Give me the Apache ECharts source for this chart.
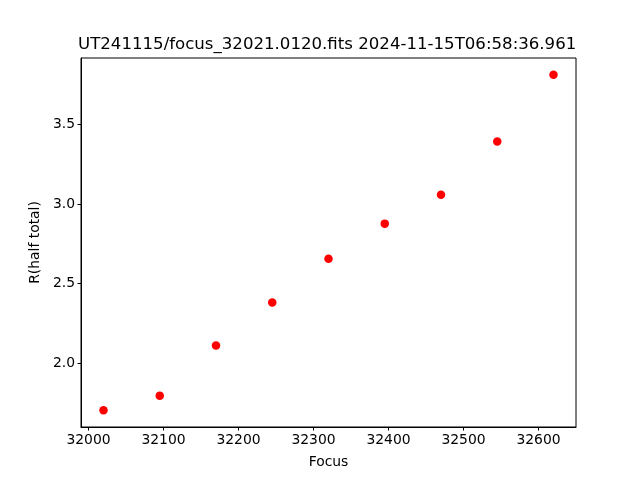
<!DOCTYPE html>
<html>
<head>
<meta charset="utf-8">
<script src="https://cdn.jsdelivr.net/npm/echarts@6/dist/echarts.min.js"></script>
<style>html,body{margin:0;padding:0;background:#fff}#c{width:640px;height:480px}</style>
</head>
<body>
<div id="c"></div>
<script>
const focus = [32020, 32095, 32170, 32245, 32320, 32395, 32470, 32545, 32620];
const rHalfTotal = [1.705, 1.797, 2.111, 2.381, 2.657, 2.877, 3.059, 3.393, 3.812];
const xTicks = [32000, 32100, 32200, 32300, 32400, 32500, 32600];
const yTicks = [2.0, 2.5, 3.0, 3.5];
const titleText = 'UT241115/focus_32021.0120.fits 2024-11-15T06:58:36.961';

const font = 'DejaVu Sans';
const chart = echarts.init(document.getElementById('c'), null, {renderer: 'canvas'});
chart.setOption({
  animation: false,
  backgroundColor: '#fff',
  title: {
    text: titleText,
    left: 78, top: 36, padding: 0,
    textStyle: {fontFamily: font, fontSize: 16.6, fontWeight: 'normal', color: '#000'}
  },
  grid: {left: 81, right: 64, top: 58, bottom: 53, show: true, borderColor: '#000', borderWidth: 1, backgroundColor: 'transparent'},
  xAxis: {
    type: 'value', min: 31990, max: 32650,
    name: 'Focus', nameLocation: 'middle', nameGap: 28,
    nameTextStyle: {fontFamily: font, fontSize: 13.9, color: '#000'},
    splitLine: {show: false},
    axisLine: {show: true, lineStyle: {color: '#000', width: 1}},
    axisTick: {show: true, length: 3.5, lineStyle: {color: '#000'}, customValues: xTicks},
    axisLabel: {fontFamily: font, fontSize: 13.9, color: '#000', margin: 6, customValues: xTicks,
      formatter: v => String(v)}
  },
  yAxis: {
    type: 'value', min: 1.600, max: 3.917,
    name: 'R(half total)', nameLocation: 'middle', nameGap: 39,
    nameTextStyle: {fontFamily: font, fontSize: 13.9, color: '#000'},
    splitLine: {show: false},
    axisLine: {show: true, lineStyle: {color: '#000', width: 1}},
    axisTick: {show: true, length: 3.5, lineStyle: {color: '#000'}, customValues: yTicks},
    axisLabel: {fontFamily: font, fontSize: 13.9, color: '#000', margin: 6, customValues: yTicks,
      formatter: v => v.toFixed(1)}
  },
  series: [{
    type: 'scatter',
    data: focus.map((f, i) => [f, rHalfTotal[i]]),
    symbol: 'circle', symbolSize: 8.5,
    itemStyle: {color: '#ff0000', opacity: 1}
  }]
});
</script>
</body>
</html>
